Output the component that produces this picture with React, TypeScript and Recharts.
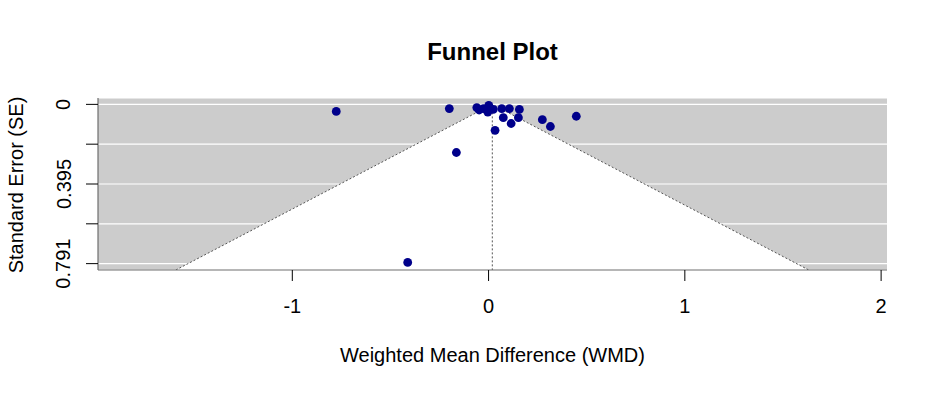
import {
  ComposedChart,
  Area,
  Scatter,
  XAxis,
  YAxis,
  CartesianGrid,
  ReferenceLine,
} from "recharts";

// study effects (WMD) and their standard errors
const studyEffects = [
  -0.06, -0.048, 0.001, -0.004, 0.024, 0.067, 0.106, 0.157, 0.075, 0.152,
  0.115, 0.033, -0.026, -0.2, -0.776, -0.164, 0.274, 0.315, 0.447, -0.412,
];
const studySE = [
  0.016, 0.028, 0.005, 0.038, 0.025, 0.021, 0.021, 0.025, 0.066, 0.066, 0.095,
  0.129, 0.021, 0.021, 0.035, 0.239, 0.076, 0.11, 0.059, 0.785,
];

const pooledEstimate = 0.019;
const zCrit = 1.96;

const xTicks = [-1, 0, 1, 2];
const seTicks = [0, 0.19775, 0.3955, 0.59325, 0.791];
const seTickLabels = ["0", "", "0.395", "", "0.791"];

const xDomain: [number, number] = [-1.99, 2.03];
const seDomain: [number, number] = [-0.0316, 0.8226];

const W = 937;
const H = 393;
const FONT = "'Liberation Sans', Arial, sans-serif";

const points = studyEffects.map((x, i) => ({ x, y: studySE[i] }));

// funnel triangle: pooled estimate +/- 1.96 * SE, down to the bottom of the axis
const seMax = seDomain[1];
const funnel = [
  { x: pooledEstimate - zCrit * seMax, y: seMax },
  { x: pooledEstimate, y: 0 },
  { x: pooledEstimate + zCrit * seMax, y: seMax },
];

function XTick(props: any) {
  const { x, y, payload } = props;
  return (
    <text
      x={x}
      y={y + 30}
      textAnchor="middle"
      fontSize={20}
      fontFamily={FONT}
      fill="#000"
    >
      {String(payload.value)}
    </text>
  );
}

function YTick(props: any) {
  const { x, y, index } = props;
  const label = seTickLabels[index] ?? "";
  if (!label) return null;
  const bx = x - 13.5;
  return (
    <text
      x={bx}
      y={y}
      transform={`rotate(-90 ${bx} ${y})`}
      textAnchor="middle"
      fontSize={20}
      fontFamily={FONT}
      fill="#000"
    >
      {label}
    </text>
  );
}

export default function App() {
  return (
    <div
      style={{
        position: "absolute",
        left: 0,
        top: 0,
        width: W,
        height: H,
        background: "#fff",
      }}
    >
      <div
        style={{
          position: "absolute",
          left: 98,
          width: 789,
          top: 40,
          height: 24,
          lineHeight: "24px",
          textAlign: "center",
          fontFamily: FONT,
          fontWeight: 700,
          fontSize: 24,
          color: "#000",
        }}
      >
        Funnel Plot
      </div>
      <ComposedChart
        width={W}
        height={H}
        margin={{ top: 98, right: 50, left: 0, bottom: 0 }}
      >
        <CartesianGrid
          vertical={false}
          stroke="#ffffff"
          strokeWidth={1.2}
          fill="#cccccc"
          fillOpacity={1}
        />
        <XAxis
          type="number"
          dataKey="x"
          domain={xDomain}
          ticks={xTicks}
          interval={0}
          allowDataOverflow
          height={123}
          tickSize={11}
          axisLine={{ stroke: "#6e6e6e", strokeWidth: 1.2 }}
          tickLine={{ stroke: "#000" }}
          tick={XTick}
          label={{
            content: () => (
              <text
                x={98 + 789 / 2}
                y={362}
                textAnchor="middle"
                fontSize={20}
                fontFamily={FONT}
                fill="#000"
              >
                Weighted Mean Difference (WMD)
              </text>
            ),
          }}
        />
        <YAxis
          type="number"
          dataKey="y"
          reversed
          domain={seDomain}
          ticks={seTicks}
          interval={0}
          allowDataOverflow
          width={98}
          tickSize={12}
          axisLine={{ stroke: "#6e6e6e", strokeWidth: 1.2 }}
          tickLine={{ stroke: "#000" }}
          tick={YTick}
          label={{
            content: () => (
              <text
                x={23}
                y={185}
                transform="rotate(-90 23 185)"
                textAnchor="middle"
                fontSize={20}
                fontFamily={FONT}
                fill="#000"
              >
                Standard Error (SE)
              </text>
            ),
          }}
        />
        <Area
          data={funnel}
          type="linear"
          dataKey="y"
          baseValue={seMax}
          fill="#ffffff"
          fillOpacity={1}
          stroke="#555555"
          strokeDasharray="2 2"
          dot={false}
          activeDot={false}
          isAnimationActive={false}
        />
        <ReferenceLine
          segment={[
            { x: pooledEstimate, y: 0 },
            { x: pooledEstimate, y: seMax },
          ]}
          stroke="#555555"
          strokeDasharray="2 2"
        />
        <Scatter
          data={points}
          dataKey="y"
          fill="#00008B"
          shape={(p: any) => (
            <circle cx={p.cx} cy={p.cy} r={4.4} fill="#00008B" />
          )}
          isAnimationActive={false}
        />
      </ComposedChart>
    </div>
  );
}
